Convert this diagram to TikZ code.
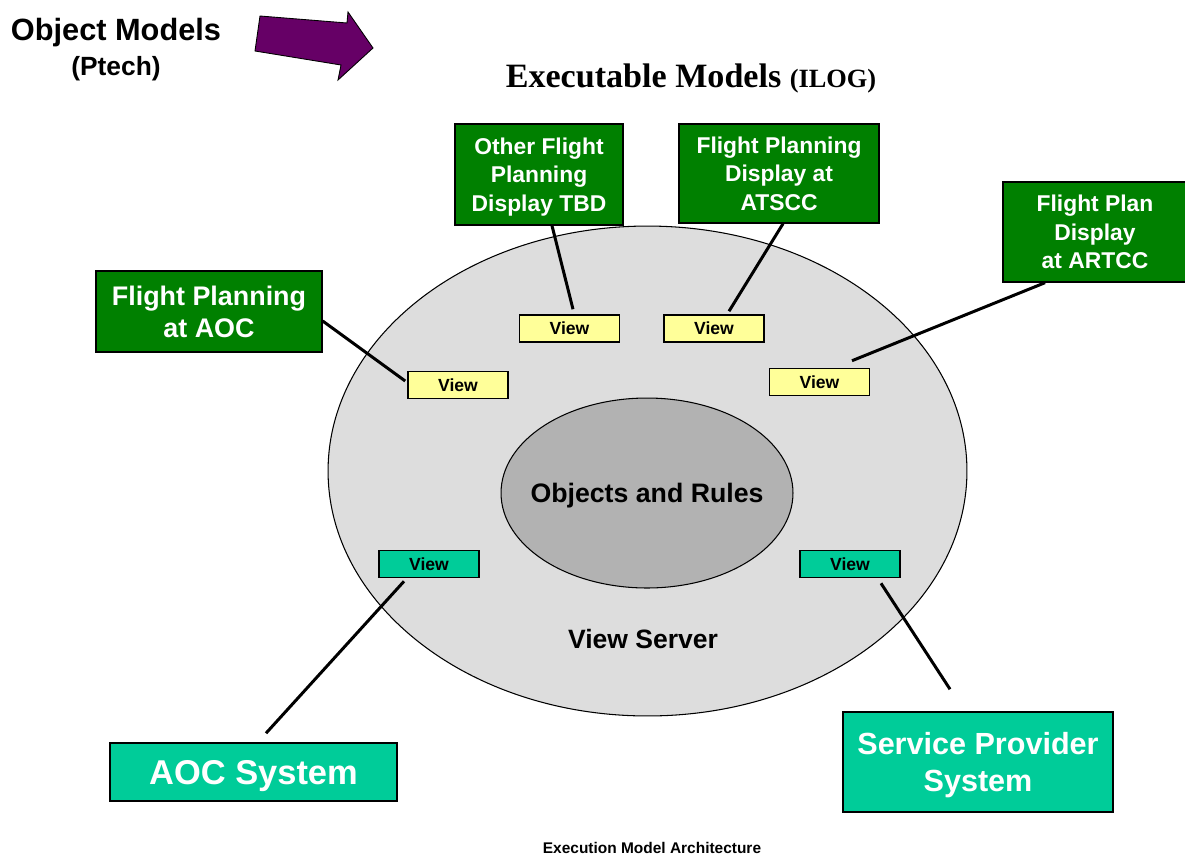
\documentclass[tikz,border=0pt]{standalone}
\usepackage{fontspec}
\setmainfont{Liberation Sans}
\newfontfamily\titlefont{Liberation Serif}
\usepackage{tikz}
\usepackage{xcolor}
\usetikzlibrary{positioning, shapes}

\definecolor{boxgreen}{RGB}{0,128,0}
\definecolor{sysgreen}{RGB}{0,204,153}
\definecolor{viewyellow}{RGB}{255,255,153}
\definecolor{servergray}{RGB}{221,221,221}
\definecolor{rulesgray}{RGB}{178,178,178}
\definecolor{arrowpurple}{RGB}{102,0,102}

\tikzset{
    display/.style={rectangle, draw, line width=0.8pt, fill=boxgreen, text=white, align=center, inner sep=0pt, text depth=0pt},
    sysbox/.style={rectangle, draw, line width=0.9pt, fill=sysgreen, text=white, align=center, inner sep=0pt, text depth=0pt},
    viewbox/.style={rectangle, draw, line width=0.9pt, minimum width=2cm, minimum height=0.54cm, inner sep=0pt, font=\bfseries\fontsize{10}{12}\selectfont},
    link/.style={line width=1.7pt}
}

\begin{document}
\begin{tikzpicture}[x=0.02cm, y=-0.02cm]
    \useasboundingbox (0,0) rectangle (1185,856);

    % heading
    \node[font=\bfseries\fontsize{17.5}{21}\selectfont] (objmodels) at (116,33) {Object Models};
    \node[font=\bfseries\fontsize{15}{18}\selectfont] (ptech) at (116,69) {(Ptech)};
    \draw[fill=arrowpurple, line width=0.5pt] (260,16) -- (347,23) -- (348,12) -- (373,48) -- (338,80) -- (341,65) -- (255,51) -- cycle;
    \node[font=\titlefont\bfseries\fontsize{19.4}{23}\selectfont] (exec) at (691,78) {Executable Models {\fontsize{15}{18}\selectfont (ILOG)}};

    % server
    \node[ellipse, draw, fill=servergray, line width=0.6pt, minimum width=12.78cm, minimum height=9.8cm, inner sep=0pt] (server) at (647.5,471) {};
    \node[ellipse, draw, fill=rulesgray, line width=0.6pt, minimum width=5.84cm, minimum height=3.8cm, inner sep=0pt] (rules) at (647,493) {};
    \node[font=\bfseries\fontsize{15.2}{18}\selectfont, inner sep=0pt] (ruleslabel) at ([yshift=-0.05cm]rules.center) {Objects and Rules};
    \node[font=\bfseries\fontsize{15.1}{18}\selectfont] (serverlabel) at (643,639) {View Server};

    % views
    \node[viewbox, fill=viewyellow] (v1) at (458,385) {View};
    \node[viewbox, fill=viewyellow] (v2) at (569.5,328.5) {View};
    \node[viewbox, fill=viewyellow] (v3) at (714,328.5) {View};
    \node[viewbox, fill=viewyellow] (v4) at (819.5,382) {View};
    \node[viewbox, fill=sysgreen] (v5) at (429,564) {View};
    \node[viewbox, fill=sysgreen] (v6) at (850,564) {View};

    % displays
    \node[display, minimum width=4.52cm, minimum height=1.62cm, font=\bfseries\fontsize{15.3}{18}\selectfont] (aoc) at (209,311.5) {Flight Planning\\at AOC};
    \node[display, minimum width=3.36cm, minimum height=2.02cm, font=\bfseries\fontsize{13}{16.2}\selectfont] (tbd) at (539,174.5) {Other Flight\\Planning\\Display TBD};
    \node[display, minimum width=4cm, minimum height=1.98cm, font=\bfseries\fontsize{13}{16.2}\selectfont] (atscc) at (779,173.5) {Flight Planning\\Display at\\ATSCC};
    \node[display, minimum width=3.68cm, minimum height=2cm, font=\bfseries\fontsize{13}{16.2}\selectfont] (artcc) at (1095,232) {Flight Plan\\Display\\at ARTCC};

    % systems
    \node[sysbox, minimum width=5.74cm, minimum height=1.16cm, font=\bfseries\fontsize{19.6}{23}\selectfont] (aocsys) at (253.5,772) {AOC System};
    \node[sysbox, minimum width=5.4cm, minimum height=2cm, font=\bfseries\fontsize{17.4}{21}\selectfont] (spsys) at (978,762) {Service Provider\\System};

    % links
    \draw[link] ([yshift=-0.19cm]aoc.east) -- ([xshift=-0.04cm, yshift=0.08cm]v1.west);
    \draw[link] ([xshift=0.26cm]tbd.south) -- ([xshift=0.07cm, yshift=0.1cm]v2.north);
    \draw[link] ([xshift=0.08cm]atscc.south) -- ([xshift=0.3cm, yshift=0.06cm]v3.north);
    \draw[link] ([xshift=-1cm]artcc.south) -- ([xshift=0.65cm, yshift=0.14cm]v4.north);
    \draw[link] ([xshift=-0.5cm, yshift=-0.06cm]v5.south) -- ([xshift=0.25cm, yshift=0.18cm]aocsys.north);
    \draw[link] ([xshift=0.62cm, yshift=-0.1cm]v6.south) -- ([xshift=-0.56cm, yshift=0.44cm]spsys.north);

    % caption
    \node[font=\bfseries\fontsize{8.8}{10}\selectfont, inner sep=1pt] (caption) at (652,848) {Execution Model Architecture};
\end{tikzpicture}
\end{document}
